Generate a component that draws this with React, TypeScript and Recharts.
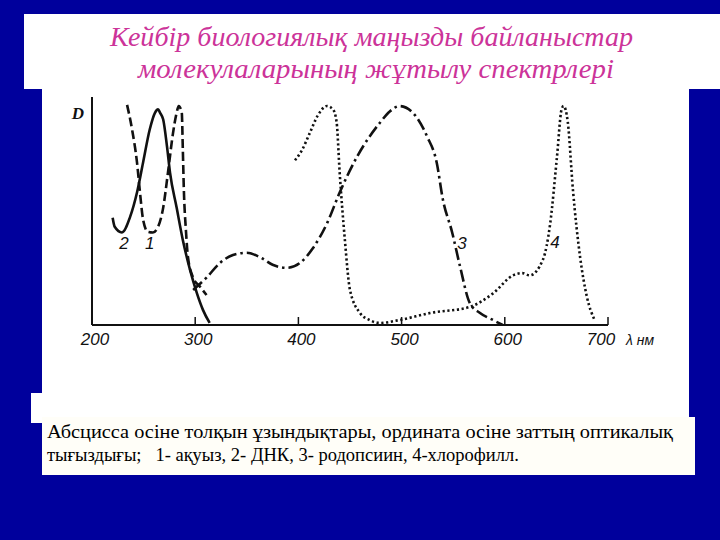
import React from 'react';
import { LineChart, Line, XAxis, YAxis, ReferenceDot } from 'recharts';

// wavelength (nm), optical density D (relative units)
const xTicks = [200, 300, 400, 500, 600, 700];

const protein: [number, number][] = [
  [234, 97.5], [238.8, 86.7], [243.6, 72], [246.5, 58.7], [249.5, 46.7], [254, 41.3],
  [259, 41], [264, 43.5], [269, 52], [273.6, 67.5], [278.5, 85], [282, 94], [284, 97],
  [287, 94], [288, 78], [289, 60], [291, 42], [293, 30], [298, 21], [304.6, 17], [311, 13.3],
];

const dna: [number, number][] = [
  [220, 47.5], [222, 43.5], [229, 41], [237, 48], [243.6, 58.7], [249.5, 72], [256, 86.7],
  [261, 94], [264, 95.5], [266, 94], [269, 91], [272.7, 79], [275.6, 67.5], [282, 52],
  [288, 37.7], [295, 24.4], [301.7, 14], [307.5, 6.7], [314, 0.9],
];

const rhodopsin: [number, number][] = [
  [298, 15.5], [311, 21], [324, 27.5], [336.6, 31], [350, 32], [363, 30], [375, 26.7],
  [389, 25.3], [401.5, 27.5], [414, 34], [427.7, 45], [440, 58.7], [457, 74.7], [479, 89.6],
  [488.8, 94.7], [498, 97], [511, 94], [524.6, 83.6], [534, 72], [540, 55.6], [549, 41],
  [556.6, 26], [566, 9.8], [576, 5.3], [588.6, 2.2], [598, 0],
];

const chlorophyll: [number, number][] = [
  [396.7, 73], [403.5, 77.5], [411, 85], [419, 93], [427.7, 97], [433.5, 95.5], [437, 90],
  [440, 67.5], [445, 37.8], [450, 15.5], [459.7, 5.3], [469, 2.2], [479, 0.9], [498, 2.2],
  [527.5, 5.3], [566, 8], [588.6, 14], [608, 22], [617, 23], [624, 22], [637, 29], [644, 45],
  [650.6, 74.7], [655, 95.5], [657, 97], [661, 90], [666, 60], [673, 30], [679.6, 12.4],
  [687, 2.2],
];

const curveLabels = [
  { name: '2', x: 231, y: 36.3 },
  { name: '1', x: 256, y: 36.3 },
  { name: '3', x: 558.5, y: 36.3 },
  { name: '4', x: 648.6, y: 36.8 },
];

const titleLines = [
  'Кейбір биологиялық маңызды байланыстар',
  'молекулаларының жұтылу спектрлері',
];

const captionLines = [
  'Абсцисса осіне толқын ұзындықтары, ордината осіне заттың оптикалық',
  'тығыздығы;   1- ақуыз, 2- ДНК, 3- родопсиин, 4-хлорофилл.',
];

const toPts = (arr: [number, number][]) => arr.map(([x, y]) => ({ x, y }));

const INK = '#111';
const SANS = '"Liberation Sans", Arial, sans-serif';
const SERIF = '"Liberation Serif", "DejaVu Serif", "Times New Roman", serif';

const Tick = (props: any) => {
  const { x, y, payload, index } = props;
  const last = index === xTicks.length - 1 || payload.value === 700;
  return (
    <g>
      <line x1={x} y1={y} x2={x} y2={y - 8} stroke={INK} strokeWidth={1.5} />
      <text
        x={last ? x - 7 : x + 3}
        y={y + 20}
        textAnchor="middle"
        style={{ fontFamily: SANS, fontStyle: 'italic', fontSize: 17 }}
        fill={INK}
      >
        {payload.value}
      </text>
    </g>
  );
};

export default function App() {
  return (
    <div
      style={{
        position: 'fixed',
        left: 0,
        top: 0,
        width: 720,
        height: 540,
        background: '#00009c',
        overflow: 'hidden',
      }}
    >
      <div style={{ position: 'absolute', left: 24, top: 14, width: 696, height: 75, background: '#fff' }} />
      <div style={{ position: 'absolute', left: 42, top: 89, width: 647, height: 330, background: '#fff' }} />
      <div style={{ position: 'absolute', left: 31, top: 393, width: 658, height: 30, background: '#fff' }} />
      <div style={{ position: 'absolute', left: 42, top: 417, width: 653, height: 58, background: '#fffef8' }} />

      <div style={{ position: 'absolute', left: 0, top: 0 }}>
        <LineChart
          width={720}
          height={540}
          margin={{ top: 97, right: 112, bottom: 185, left: 62 }}
        >
          <XAxis
            type="number"
            dataKey="x"
            domain={[200, 700]}
            ticks={xTicks}
            allowDataOverflow
            height={30}
            tickSize={0}
            tickMargin={0}
            tickLine={false}
            axisLine={{ stroke: INK, strokeWidth: 2 }}
            tick={<Tick />}
          />
          <YAxis
            type="number"
            dataKey="y"
            domain={[0, 101]}
            allowDataOverflow
            width={30}
            tick={false}
            tickLine={false}
            axisLine={{ stroke: INK, strokeWidth: 2 }}
          />
          <Line
            data={toPts(dna)}
            dataKey="y"
            type="monotone"
            stroke={INK}
            strokeWidth={2.6}
            dot={false}
            isAnimationActive={false}
          />
          <Line
            data={toPts(protein)}
            dataKey="y"
            type="monotone"
            stroke={INK}
            strokeWidth={2.6}
            strokeDasharray="9 4"
            dot={false}
            isAnimationActive={false}
          />
          <Line
            data={toPts(rhodopsin)}
            dataKey="y"
            type="monotone"
            stroke={INK}
            strokeWidth={2.6}
            strokeDasharray="12 4 2.5 4"
            dot={false}
            isAnimationActive={false}
          />
          <Line
            data={toPts(chlorophyll)}
            dataKey="y"
            type="monotone"
            stroke={INK}
            strokeWidth={2.6}
            strokeDasharray="2.2 2.6"
            dot={false}
            isAnimationActive={false}
          />
          {curveLabels.map((l) => (
            <ReferenceDot
              key={l.name}
              x={l.x}
              y={l.y}
              r={1}
              fill="none"
              stroke="none"
              label={{
                value: l.name,
                position: 'center',
                fill: INK,
                fontSize: 17,
                fontStyle: 'italic',
                fontFamily: SANS,
              }}
            />
          ))}
        </LineChart>
      </div>

      <svg
        width={720}
        height={540}
        style={{ position: 'absolute', left: 0, top: 0, pointerEvents: 'none' }}
      >
        <text x={371.5} y={46} textAnchor="middle" style={{ fontFamily: SERIF, fontStyle: 'italic', fontSize: 27 }} fill="#cc3399" textLength={523} lengthAdjust="spacingAndGlyphs">
          {titleLines[0]}
        </text>
        <text x={376} y={78} textAnchor="middle" style={{ fontFamily: SERIF, fontStyle: 'italic', fontSize: 27 }} fill="#cc3399" textLength={476} lengthAdjust="spacingAndGlyphs">
          {titleLines[1]}
        </text>
        <text x={78} y={119} textAnchor="middle" style={{ fontFamily: SERIF, fontStyle: 'italic', fontWeight: 'bold', fontSize: 17 }} fill={INK}>
          D
        </text>
        <text x={626} y={345} style={{ fontFamily: SANS, fontStyle: 'italic', fontSize: 14 }} fill={INK}>
          λ нм
        </text>
        <text x={47} y={438} style={{ fontFamily: SERIF, fontSize: 18.5 }} fill="#000" textLength={626} lengthAdjust="spacingAndGlyphs">
          {captionLines[0]}
        </text>
        <text x={47} y={461} style={{ fontFamily: SERIF, fontSize: 18.5, whiteSpace: 'pre' }} fill="#000">
          {captionLines[1]}
        </text>
      </svg>
    </div>
  );
}
